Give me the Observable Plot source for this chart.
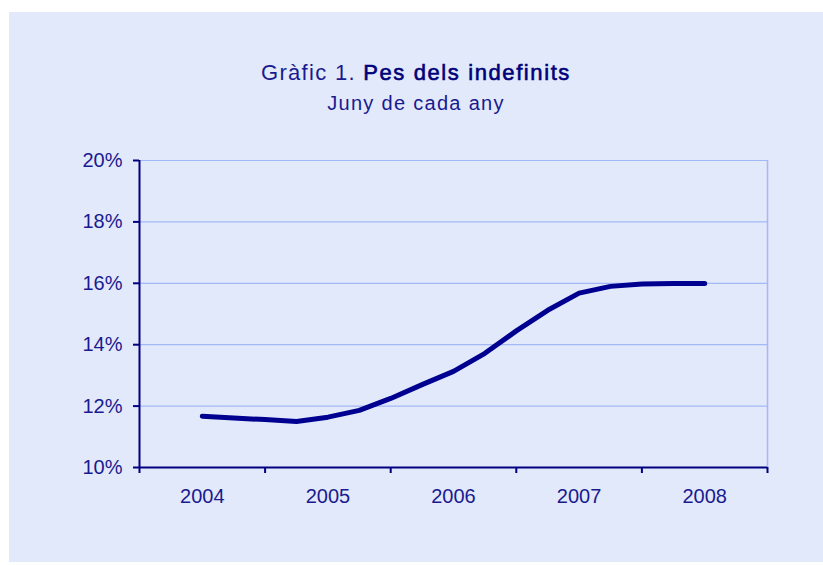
<!DOCTYPE html>
<html>
<head>
<meta charset="utf-8">
<script src="https://cdn.jsdelivr.net/npm/d3@7"></script>
<script src="https://cdn.jsdelivr.net/npm/@observablehq/plot@0.6"></script>
<style>
  html, body { margin: 0; padding: 0; background: #ffffff; }
  body { width: 823px; height: 565px; position: relative; overflow: hidden; font-family: "Liberation Sans", Arial, sans-serif; }
  #panel { position: absolute; left: 9px; top: 12px; width: 814px; height: 550px; background: #e2e9fb; }
  #title { position: absolute; left: 9px; width: 814px; top: 60px; text-align: center; font-size: 22px; line-height: 26px; color: #1a1a90; letter-spacing: 1.3px; white-space: nowrap; }
  #title b { color: #00007a; font-weight: normal; -webkit-text-stroke: 0.6px #00007a; letter-spacing: 1.6px; }
  #subtitle { position: absolute; left: 9px; width: 814px; top: 91px; text-align: center; font-size: 20px; line-height: 24px; color: #1a1a90; letter-spacing: 1.3px; white-space: nowrap; }
  #chart { position: absolute; left: 0; top: 130px; }
</style>
</head>
<body>
<div id="panel"></div>
<div id="title">Gràfic 1. <b>Pes dels indefinits</b></div>
<div id="subtitle">Juny de cada any</div>
<div id="chart"></div>
<script>
const periods = ["2004-06","2004-09","2004-12","2005-03","2005-06","2005-09","2005-12","2006-03","2006-06","2006-09","2006-12","2007-03","2007-06","2007-09","2007-12","2008-03","2008-06"];
const values  = [11.67, 11.61, 11.56, 11.50, 11.64, 11.86, 12.25, 12.70, 13.13, 13.72, 14.45, 15.12, 15.68, 15.90, 15.98, 15.99, 15.99];
const years = ["2004","2005","2006","2007","2008"];
const yTicks = [10, 12, 14, 16, 18, 20];
const gridLines = [12, 14, 16, 18, 20];

const baseYear = +years[0];
const data = periods.map((p, i) => {
  const [yr, mo] = p.split("-").map(Number);
  return {x: (yr - baseYear) + mo / 12, y: values[i]};
});
const yearEdges = d3.range(years.length + 1);
const yearCenters = years.map((_, i) => i + 0.5);

const navy = "#000080";
const textColor = "#1a1a90";
const gridColor = "#a3b9f6";

const chart = Plot.plot({
  width: 823,
  height: 435,
  marginLeft: 139,
  marginRight: 56,
  marginTop: 30,
  marginBottom: 98,
  style: {fontFamily: "'Liberation Sans', Arial, sans-serif", fontSize: "20px", background: "transparent", color: textColor},
  x: {domain: [0, years.length]},
  y: {domain: [10, 20]},
  marks: [
    Plot.ruleY(gridLines, {stroke: gridColor, strokeWidth: 1.2}),
    Plot.ruleX([years.length], {stroke: gridColor, strokeWidth: 1.5}),
    Plot.line(data, {x: "x", y: "y", stroke: "#000090", strokeWidth: 5, strokeLinecap: "round", strokeLinejoin: "round"}),
    Plot.ruleX([0], {stroke: navy, strokeWidth: 2}),
    Plot.ruleY([10], {stroke: navy, strokeWidth: 2}),
    Plot.axisY({ticks: yTicks, tickSize: 6, tickPadding: 11, tickFormat: d => d + "%", stroke: navy, strokeWidth: 2, fill: textColor, label: null}),
    Plot.axisX({ticks: yearEdges, tickSize: 6, tickFormat: () => "", stroke: navy, strokeWidth: 2, label: null}),
    Plot.axisX({ticks: yearCenters, tickSize: 0, tickPadding: 21, tickFormat: d => years[Math.round(d - 0.5)], fill: textColor, label: null})
  ]
});
document.getElementById("chart").appendChild(chart);
</script>
</body>
</html>
